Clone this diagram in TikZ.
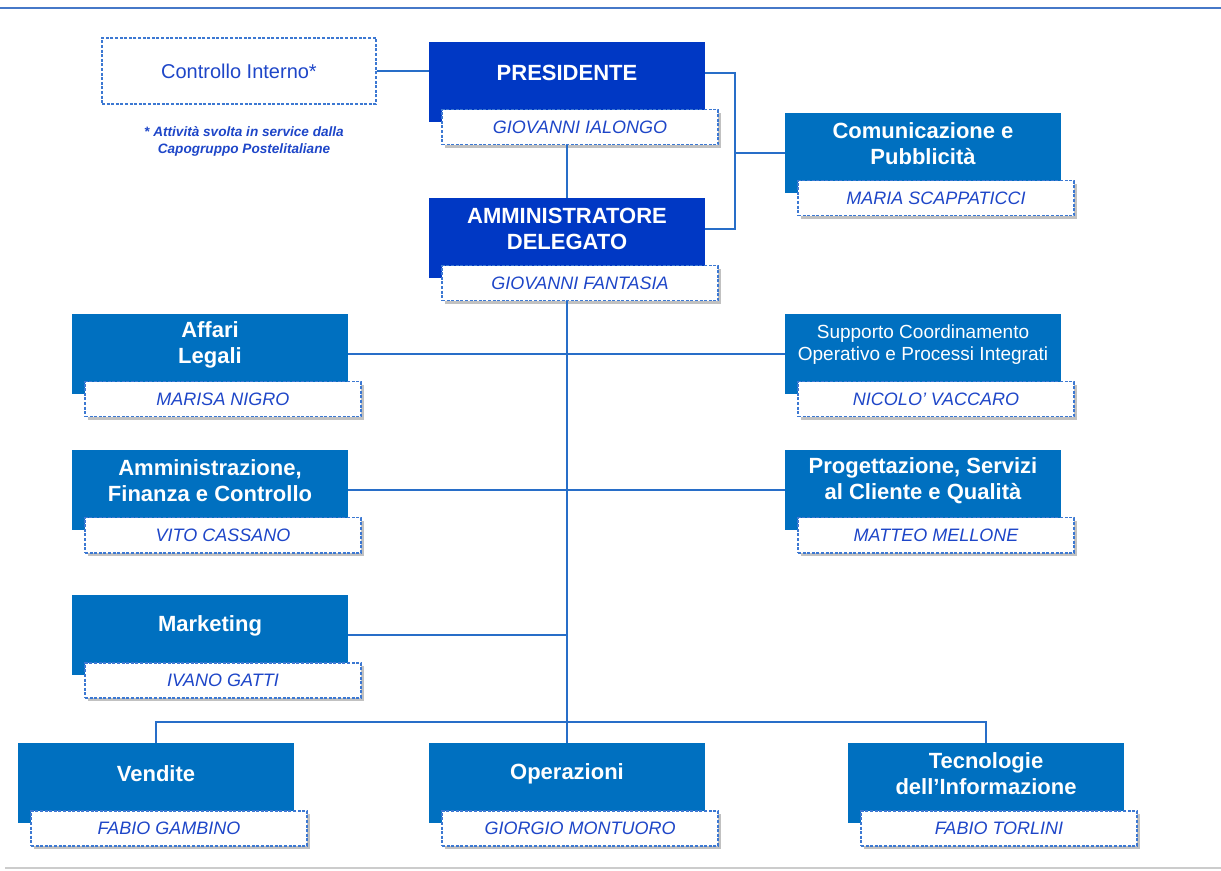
\documentclass[tikz,border=0pt]{standalone}
\usepackage{fontspec}
\setmainfont{Liberation Sans}
\usetikzlibrary{shadows}

\definecolor{DarkUnit}{RGB}{0,56,196}
\definecolor{MidUnit}{RGB}{0,112,192}
\definecolor{LinkLine}{RGB}{40,110,200}
\definecolor{NameLine}{RGB}{60,120,210}
\definecolor{NameText}{RGB}{30,70,200}
\definecolor{TopRule}{RGB}{70,120,200}

\def\BoxW{138pt}
\def\BoxH{40pt}
\def\NameH{17.5pt}

\tikzset{
  unitbox/.style={fill=MidUnit, minimum width=\BoxW, minimum height=\BoxH, inner sep=0pt},
  topbox/.style={unitbox, fill=DarkUnit},
  unittitle/.style={text=white, font=\bfseries\fontsize{11}{13}\selectfont, align=center, inner sep=0pt},
  plaintitle/.style={text=white, font=\fontsize{9.5}{11}\selectfont, align=center, inner sep=0pt},
  namebox/.style={fill=white, draw=NameLine, line width=0.6pt, dash pattern=on 1.5pt off 0.8pt,
    minimum width=\BoxW, minimum height=\NameH, inner sep=0pt, text=NameText,
    font=\itshape\fontsize{9}{10}\selectfont,
    drop shadow={shadow xshift=1.5pt, shadow yshift=-1.5pt, opacity=0.35, fill=black!70}},
  ctrlbox/.style={draw=NameLine, line width=0.6pt, dash pattern=on 1.5pt off 0.8pt,
    minimum width=137pt, minimum height=33pt, text=NameText, font=\fontsize{10}{12}\selectfont},
  note/.style={text=NameText, font=\bfseries\itshape\fontsize{6.8}{8.5}\selectfont, align=center, inner sep=0pt},
  link/.style={draw=LinkLine, line width=0.9pt}
}

\begin{document}
\begin{tikzpicture}[x=0.5pt,y=-0.5pt]
  \useasboundingbox (0,0) rectangle (1221,871);

  % --- righe di bordo ---
  \draw[TopRule, line width=1pt] (0,8) -- (1221,8);
  \draw[gray!40, line width=1.2pt] (5,868) -- (1221,868);

  % --- controllo interno ---
  \node[ctrlbox] (ctrl) at (239,71) {Controllo Interno*};
  \node[note] (ctrl-note) at (244,141) {* Attività svolta in service dalla\\Capogruppo Postelitaliane};

  % --- unita: id/sinistra/alto/box/titolo/testo/responsabile ---
  \foreach \id/\l/\t/\kind/\tstyle/\title/\who in {%
    pres/429/42/topbox/unittitle/{PRESIDENTE}/{GIOVANNI IALONGO},
    ad/429/198/topbox/unittitle/{AMMINISTRATORE\\DELEGATO}/{GIOVANNI FANTASIA},
    comun/785/113/unitbox/unittitle/{Comunicazione e\\Pubblicità}/{MARIA SCAPPATICCI},
    aff/72/314/unitbox/unittitle/{Affari\\Legali}/{MARISA NIGRO},
    supp/785/314/unitbox/plaintitle/{Supporto Coordinamento\\Operativo e Processi Integrati}/{NICOLO' VACCARO},
    amm/72/450/unitbox/unittitle/{Amministrazione,\\Finanza e Controllo}/{VITO CASSANO},
    prog/785/450/unitbox/unittitle/{Progettazione, Servizi\\al Cliente e Qualità}/{MATTEO MELLONE},
    mkt/72/595/unitbox/unittitle/{Marketing}/{IVANO GATTI},
    vend/18/743/unitbox/unittitle/{Vendite}/{FABIO GAMBINO},
    oper/429/743/unitbox/unittitle/{Operazioni}/{GIORGIO MONTUORO},
    tecn/848/743/unitbox/unittitle/{Tecnologie\\dell’Informazione}/{FABIO TORLINI}
  }{
    \node[\kind] (\id) at ({\l+138},{\t+40}) {};
    \node[\tstyle] (\id-t) at ([yshift=4.5pt]\id.center) {\title};
    \node[namebox] (\id-n) at ([xshift=6.5pt,yshift=-2.5pt]\id.south) {\who};
  }

  % --- collegamenti ---
  \coordinate (jr) at (735,0);
  \coordinate (bus) at (567,722);
  \draw[link] (ctrl.east) -- (ctrl.east -| pres.west);
  \draw[link] (pres-t -| pres.east) -| (jr |- ad-t) -- (ad-t -| ad.east);
  \draw[link] (comun.west) -- (comun.west -| jr);
  \draw[link] (pres-n.south -| pres.center) -- (ad.north);
  \draw[link] (ad-n.south -| ad.center) -- (oper.north);
  \draw[link] (aff.east) -- (supp.west);
  \draw[link] (amm.east) -- (prog.west);
  \draw[link] (mkt.east) -- (mkt.east -| ad.center);
  \draw[link] (vend.north) |- (bus) -| (tecn.north);
\end{tikzpicture}
\end{document}
